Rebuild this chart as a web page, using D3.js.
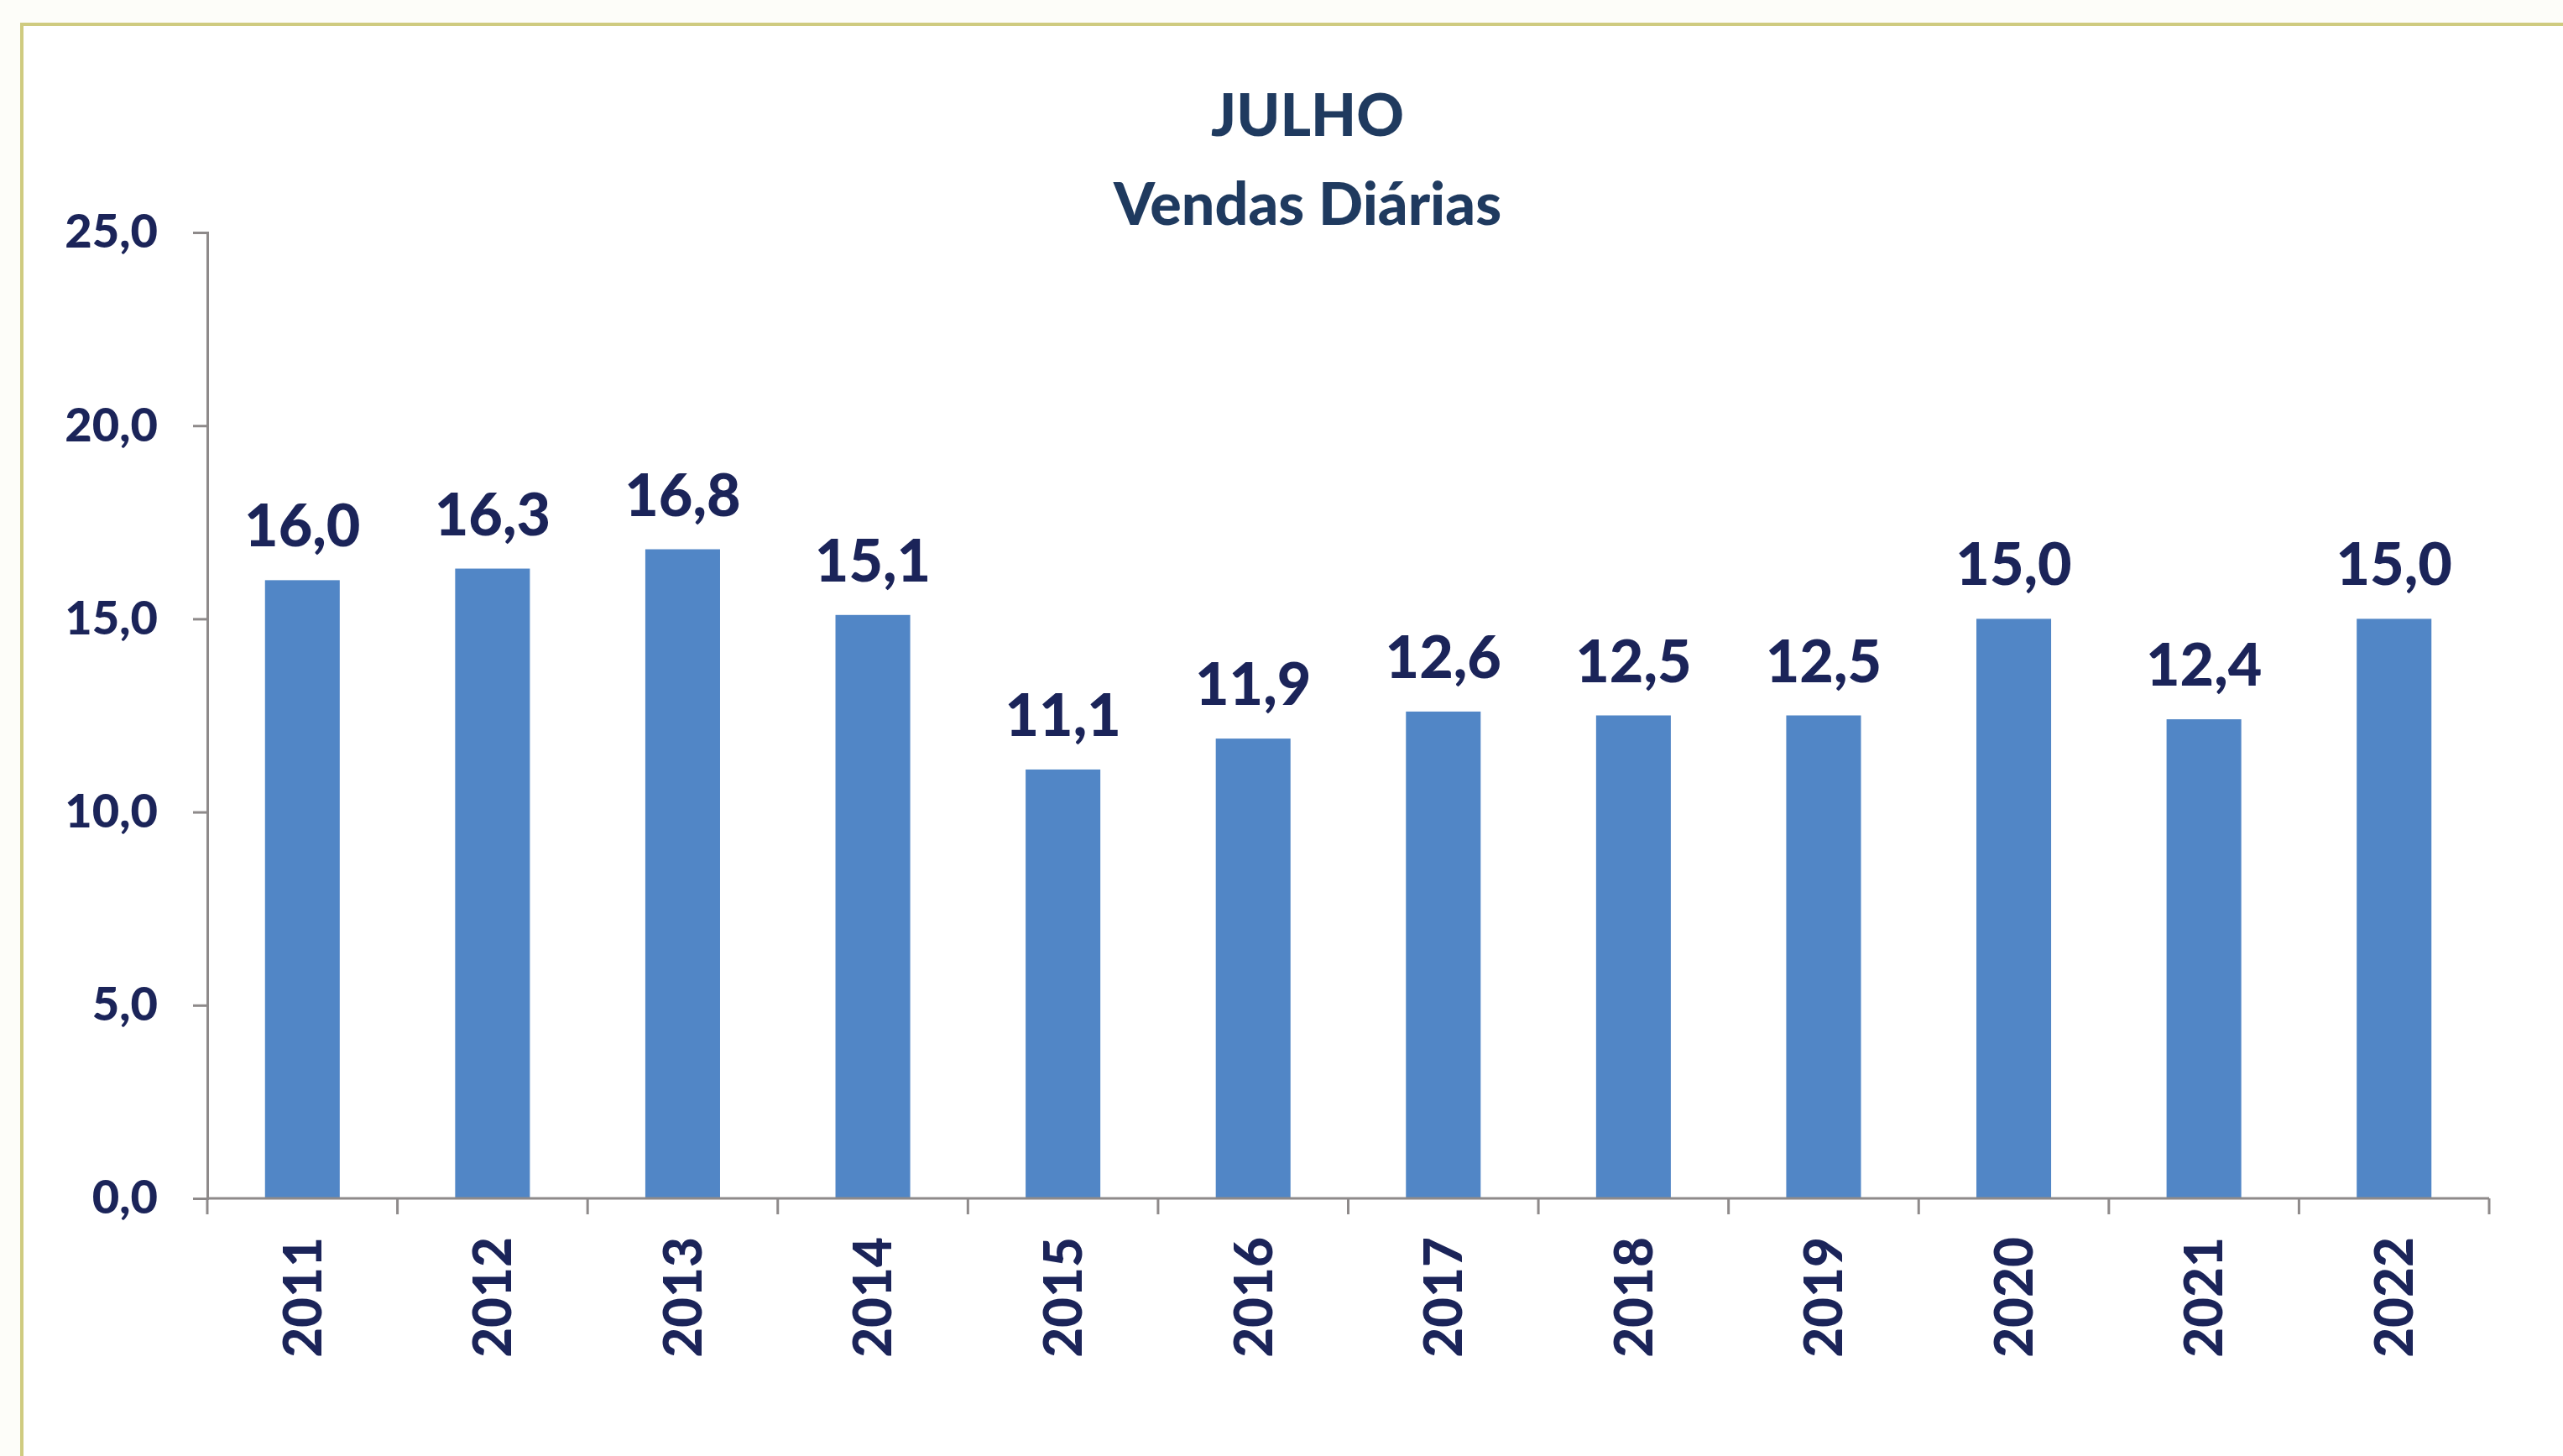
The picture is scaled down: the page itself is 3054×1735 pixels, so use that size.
<!DOCTYPE html>
<html>
<head>
<meta charset="utf-8">
<script src="https://cdn.jsdelivr.net/npm/d3@7"></script>
<style>
  body { margin: 0; background: #fdfdf9; }
  svg { display: block; }
</style>
</head>
<body>
<script>
const years = ['2011', '2012', '2013', '2014', '2015', '2016', '2017', '2018', '2019', '2020', '2021', '2022']
const sales = [16.0, 16.3, 16.8, 15.1, 11.1, 11.9, 12.6, 12.5, 12.5, 15.0, 12.4, 15.0]
const yTicks = [0, 5, 10, 15, 20, 25]
const titleLines = ['JULHO', 'Vendas Diárias']

const width = 3054
const height = 1735
const font = 'Lato, "Open Sans", sans-serif'
const weight = 900
const navy = '#1b2459'
const axisGrey = '#8e8a8a'

// european decimal comma
const fmt = v => d3.format('.1f')(v).replace('.', ',')

const svg = d3.select(document.body).append('svg')
  .attr('width', width)
  .attr('height', height)
  .attr('xmlns', 'http://www.w3.org/2000/svg')

// chart frame, only top and left edges show in the shot
svg.append('rect')
  .attr('x', 26).attr('y', 29)
  .attr('width', width).attr('height', height)
  .attr('fill', 'white')
  .attr('stroke', '#cfcb80')
  .attr('stroke-width', 4)

const plot = { left: 247, right: 2966, top: 277, bottom: 1428 }

const x = d3.scaleBand()
  .domain(years)
  .range([plot.left, plot.right])
  .paddingInner(0.607)
  .paddingOuter(0.3035)

const y = d3.scaleLinear()
  .domain([0, 25])
  .range([plot.bottom, plot.top])

// title
svg.append('g')
  .selectAll('text')
  .data(titleLines)
  .join('text')
  .attr('x', 1558)
  .attr('y', (d, i) => 162 + i * 106)
  .attr('text-anchor', 'middle')
  .attr('font-family', font)
  .attr('font-weight', weight)
  .attr('font-size', 70)
  .attr('fill', '#1f3a5f')
  .text(d => d)

// y axis
const yAxis = svg.append('g')
  .attr('transform', `translate(${plot.left},0)`)
  .call(d3.axisLeft(y).tickValues(yTicks).tickFormat(fmt).tickSize(17).tickPadding(42))
yAxis.select('.domain').attr('stroke', axisGrey).attr('stroke-width', 3)
yAxis.selectAll('.tick line').attr('stroke', axisGrey).attr('stroke-width', 3)
yAxis.selectAll('.tick text')
  .attr('font-family', font)
  .attr('font-weight', weight)
  .attr('font-size', 56)
  .attr('fill', navy)

// bars
svg.append('g')
  .selectAll('rect')
  .data(years)
  .join('rect')
  .attr('x', d => x(d))
  .attr('y', (d, i) => y(sales[i]))
  .attr('width', x.bandwidth())
  .attr('height', (d, i) => y(0) - y(sales[i]))
  .attr('fill', '#5186c6')

// value labels
svg.append('g')
  .selectAll('text')
  .data(years)
  .join('text')
  .attr('x', d => x(d) + x.bandwidth() / 2)
  .attr('y', (d, i) => y(sales[i]) - 40)
  .attr('text-anchor', 'middle')
  .attr('font-family', font)
  .attr('font-weight', weight)
  .attr('font-size', 70)
  .attr('fill', navy)
  .text((d, i) => fmt(sales[i]))

// x axis, ticks sit on the band edges
const xAxis = svg.append('g')
  .attr('transform', `translate(0,${plot.bottom})`)
xAxis.append('line')
  .attr('x1', plot.left).attr('x2', plot.right)
  .attr('stroke', axisGrey).attr('stroke-width', 3)
xAxis.selectAll('line.edge')
  .data(d3.range(years.length + 1))
  .join('line')
  .attr('class', 'edge')
  .attr('x1', i => plot.left + i * x.step())
  .attr('x2', i => plot.left + i * x.step())
  .attr('y1', 0).attr('y2', 19)
  .attr('stroke', axisGrey).attr('stroke-width', 3)
xAxis.selectAll('text')
  .data(years)
  .join('text')
  .attr('transform', d => `translate(${x(d) + x.bandwidth() / 2},46) rotate(-90)`)
  .attr('text-anchor', 'end')
  .attr('dy', '0.36em')
  .attr('font-family', font)
  .attr('font-weight', weight)
  .attr('font-size', 62)
  .attr('fill', navy)
  .text(d => d)
</script>
</body>
</html>
